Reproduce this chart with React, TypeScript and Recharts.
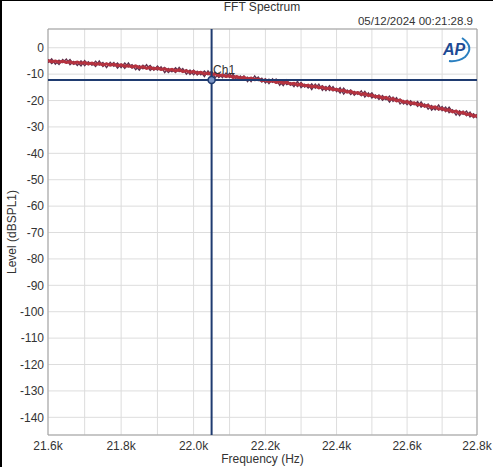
import React from 'react';
import {
  LineChart,
  Line,
  XAxis,
  YAxis,
  CartesianGrid,
  ReferenceLine,
  ReferenceDot,
  ReferenceArea,
} from 'recharts';

const freqs = [
  21600, 21610, 21620, 21630, 21640, 21650, 21660, 21670, 21680, 21690,
  21700, 21710, 21720, 21730, 21740, 21750, 21760, 21770, 21780, 21790,
  21800, 21810, 21820, 21830, 21840, 21850, 21860, 21870, 21880, 21890,
  21900, 21910, 21920, 21930, 21940, 21950, 21960, 21970, 21980, 21990,
  22000, 22010, 22020, 22030, 22040, 22050, 22060, 22070, 22080, 22090,
  22100, 22110, 22120, 22130, 22140, 22150, 22160, 22170, 22180, 22190,
  22200, 22210, 22220, 22230, 22240, 22250, 22260, 22270, 22280, 22290,
  22300, 22310, 22320, 22330, 22340, 22350, 22360, 22370, 22380, 22390,
  22400, 22410, 22420, 22430, 22440, 22450, 22460, 22470, 22480, 22490,
  22500, 22510, 22520, 22530, 22540, 22550, 22560, 22570, 22580, 22590,
  22600, 22610, 22620, 22630, 22640, 22650, 22660, 22670, 22680, 22690,
  22700, 22710, 22720, 22730, 22740, 22750, 22760, 22770, 22780, 22790,
  22800,
];

// Ch1 trace: solid core of the noisy band
const levelCore = [
  -4.8, -5.3, -5.0, -5.5, -5.1, -5.6, -5.3, -5.8, -5.4, -5.9,
  -5.6, -6.1, -5.8, -6.3, -6.0, -6.5, -6.1, -6.6, -6.3, -6.8,
  -6.5, -7.0, -6.8, -7.3, -6.9, -7.5, -7.2, -7.8, -7.4, -8.0,
  -7.7, -8.2, -8.0, -8.5, -8.2, -8.8, -8.4, -9.0, -8.7, -9.3,
  -9.0, -9.6, -9.3, -9.9, -9.6, -10.2, -9.9, -10.5, -10.3, -10.9,
  -10.6, -11.2, -10.9, -11.5, -11.2, -11.8, -11.5, -12.1, -11.9, -12.5,
  -12.2, -12.8, -12.5, -13.1, -12.8, -13.4, -13.1, -13.7, -13.5, -14.1,
  -13.8, -14.4, -14.2, -14.8, -14.5, -15.2, -14.9, -15.5, -15.3, -15.9,
  -15.7, -16.3, -16.1, -16.8, -16.5, -17.2, -17.0, -17.7, -17.4, -18.1,
  -17.9, -18.6, -18.4, -19.1, -18.8, -19.6, -19.3, -20.1, -19.8, -20.6,
  -20.4, -21.1, -20.9, -21.6, -21.4, -22.1, -21.9, -22.7, -22.4, -23.2,
  -23.0, -23.7, -23.5, -24.3, -24.0, -24.8, -24.5, -25.3, -25.1, -25.9,
  -25.8,
];

// Ch1 trace: noise peaks above/below the core
const levelPeaksA = [
  -4.4, -6.0, -4.9, -6.3, -4.5, -5.8, -4.5, -6.3, -5.4, -6.9,
  -4.9, -6.4, -5.8, -7.1, -5.0, -7.1, -5.9, -6.7, -5.6, -7.7,
  -6.2, -7.8, -5.8, -7.7, -6.9, -8.5, -6.6, -7.7, -6.7, -8.5,
  -6.9, -8.4, -7.5, -9.4, -8.2, -9.4, -7.5, -9.3, -8.3, -10.1,
  -8.5, -10.3, -9.1, -10.9, -8.8, -10.3, -9.4, -11.3, -10.2, -11.2,
  -9.7, -11.6, -10.8, -12.2, -10.7, -12.8, -11.3, -12.3, -11.1, -13.0,
  -11.8, -13.6, -11.8, -13.4, -12.8, -14.3, -12.2, -14.2, -13.3, -14.7,
  -13.1, -14.9, -13.9, -15.8, -13.8, -15.4, -14.4, -16.2, -14.4, -16.3,
  -15.4, -17.2, -15.3, -16.9, -16.0, -18.0, -16.8, -18.2, -16.5, -18.4,
  -17.1, -19.0, -17.9, -19.9, -18.8, -20.6, -18.7, -20.3, -19.5, -21.3,
  -19.9, -21.9, -20.7, -22.2, -20.5, -22.4, -21.3, -23.6, -22.4, -23.6,
  -22.3, -24.2, -22.5, -24.4, -23.7, -25.7, -24.0, -25.7, -24.4, -26.5,
  -25.2,
];

const levelPeaksB = [
  -5.7, -4.2, -6.2, -4.7, -5.6, -4.3, -6.4, -5.2, -6.7, -5.0,
  -6.8, -5.3, -6.6, -5.1, -6.6, -5.6, -7.5, -5.5, -7.0, -5.8,
  -7.5, -5.8, -7.2, -6.4, -8.3, -6.8, -8.0, -6.4, -8.6, -7.4,
  -8.5, -7.2, -9.4, -7.9, -9.1, -7.6, -9.0, -7.9, -10.0, -8.5,
  -10.2, -8.9, -10.2, -8.8, -10.2, -8.9, -11.4, -9.7, -11.3, -9.6,
  -11.3, -10.1, -12.2, -10.7, -12.2, -11.2, -12.8, -10.7, -12.4, -11.5,
  -13.3, -11.9, -13.1, -11.9, -14.2, -12.4, -14.0, -13.2, -14.7, -12.7,
  -15.1, -13.8, -15.2, -13.7, -15.3, -13.8, -16.1, -14.7, -16.2, -14.7,
  -16.6, -15.1, -17.5, -16.0, -17.7, -16.5, -17.6, -16.3, -18.7, -17.1,
  -19.0, -17.9, -19.6, -18.1, -19.7, -18.3, -20.3, -18.9, -21.3, -20.0,
  -21.6, -20.1, -21.6, -20.4, -22.5, -21.3, -23.3, -21.9, -23.5, -21.7,
  -23.8, -22.5, -24.6, -23.5, -25.5, -23.9, -25.2, -24.0, -26.2, -25.0,
  -26.6,
];

const xTicks = [21600, 21700, 21800, 21900, 22000, 22100, 22200, 22300, 22400, 22500, 22600, 22700, 22800];
const xTickLabels = ['21.6k', '', '21.8k', '', '22.0k', '', '22.2k', '', '22.4k', '', '22.6k', '', '22.8k'];
const yTicks = [0, -10, -20, -30, -40, -50, -60, -70, -80, -90, -100, -110, -120, -130, -140];
const xDomain = [21600, 22800];
const yDomain = [-146.7, 7.1];

const cursorFreq = 22050;
const cursorLevel = -12.2;
const cursorName = 'Ch1';

const title = 'FFT Spectrum';
const timestamp = '05/12/2024 00:21:28.9';
const xLabel = 'Frequency (Hz)';
const yLabel = 'Level (dBSPL1)';

const data = freqs.map((f, i) => ({
  f,
  core: levelCore[i],
  peakA: levelPeaksA[i],
  peakB: levelPeaksB[i],
}));

const FONT = '"Liberation Sans", Arial, sans-serif';
const TXT = '#333333';
const CURSOR = '#1f3b70';

export default function App() {
  return (
    <div
      style={{
        position: 'absolute',
        left: 0,
        top: 0,
        width: 493,
        height: 467,
        background: '#ffffff',
        fontFamily: FONT,
        overflow: 'hidden',
      }}
    >
      <LineChart
        width={493}
        height={467}
        data={data}
        margin={{ top: 29, right: 16, bottom: 0, left: 0 }}
        style={{ fontFamily: FONT }}
      >
        <CartesianGrid stroke="#dddddd" strokeWidth={1} />
        <XAxis
          dataKey="f"
          type="number"
          scale="log"
          domain={xDomain}
          ticks={xTicks}
          tickFormatter={(v) => xTickLabels[xTicks.indexOf(v)] ?? ''}
          interval={0}
          height={32}
          tickSize={0}
          tickMargin={6}
          axisLine={false}
          tick={{ fill: TXT, fontSize: 12, fontFamily: FONT }}
          allowDataOverflow
          label={{ value: xLabel, position: 'insideBottom', offset: 4, fill: TXT, fontSize: 12, fontFamily: FONT }}
        />
        <YAxis
          type="number"
          domain={yDomain}
          ticks={yTicks}
          interval={0}
          width={48}
          tickSize={0}
          tickMargin={4}
          axisLine={false}
          tick={{ fill: TXT, fontSize: 12, fontFamily: FONT }}
          allowDataOverflow
          label={{ value: yLabel, angle: -90, position: 'center', dx: -12, fill: TXT, fontSize: 12, fontFamily: FONT }}
        />
        <ReferenceArea
          x1={xDomain[0]}
          x2={xDomain[1]}
          y1={yDomain[0]}
          y2={yDomain[1]}
          fill="none"
          stroke="#a0a0a0"
          strokeWidth={1}
          ifOverflow="visible"
        />
        <Line type="linear" dataKey="peakA" stroke="#58334f" strokeWidth={1.4} dot={false} isAnimationActive={false} />
        <Line type="linear" dataKey="peakB" stroke="#66304c" strokeWidth={1.4} dot={false} isAnimationActive={false} />
        <Line type="linear" dataKey="core" stroke="#b5323f" strokeWidth={3} dot={false} isAnimationActive={false} />
        <ReferenceLine x={cursorFreq} stroke={CURSOR} strokeWidth={2} ifOverflow="visible" />
        <ReferenceLine y={cursorLevel} stroke={CURSOR} strokeWidth={2} ifOverflow="visible" />
        <ReferenceDot
          x={cursorFreq}
          y={cursorLevel}
          r={3.5}
          fill="#7a94c4"
          stroke={CURSOR}
          strokeWidth={1.5}
          label={{ value: cursorName, position: 'right', offset: -2, dy: -10, fill: TXT, fontSize: 12, fontFamily: FONT }}
        />
      </LineChart>
      <svg
        width={493}
        height={467}
        style={{ position: 'absolute', left: 0, top: 0, pointerEvents: 'none' }}
      >
        <rect x={0} y={0} width={493} height={1} fill="#000" />
        <rect x={0} y={0} width={2} height={467} fill="#000" />
        <text x={262} y={11} textAnchor="middle" fontSize={12} fill={TXT} fontFamily={FONT}>
          {title}
        </text>
        <text x={473} y={25} textAnchor="end" fontSize={11.5} fill={TXT} fontFamily={FONT}>
          {timestamp}
        </text>
        <g>
          <text x={443} y={55} fontSize={16} fontWeight="bold" fontStyle="italic" fill="#1d4a94" fontFamily={FONT}>
            AP
          </text>
          <path d="M 462 38 Q 475 47 465 57 Q 458 62 449 61" fill="none" stroke="#2a7fc0" strokeWidth={2} />
        </g>
      </svg>
    </div>
  );
}
